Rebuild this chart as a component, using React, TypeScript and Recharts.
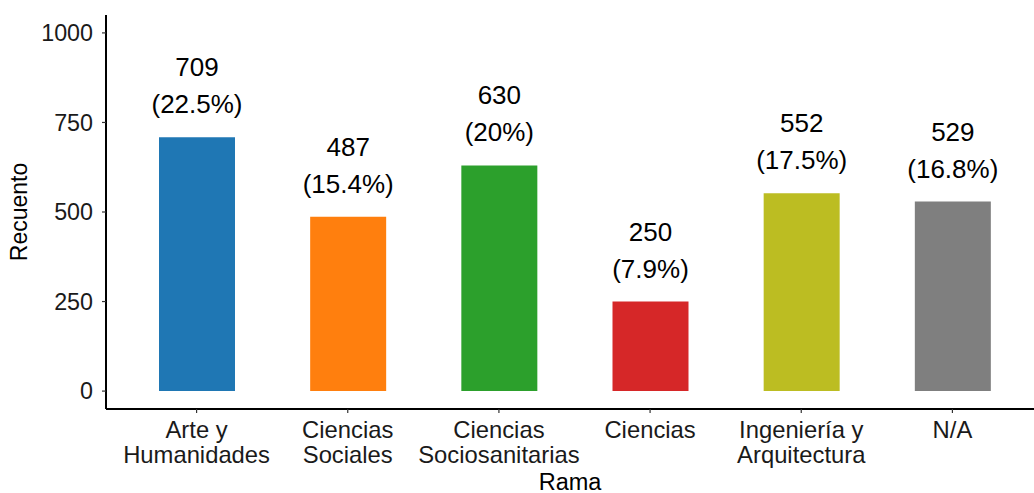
import { BarChart, Bar, XAxis, YAxis, Cell, LabelList, Label } from "recharts";

// Counts per branch (Rama)
const RAMAS = [
  "Arte y\nHumanidades",
  "Ciencias\nSociales",
  "Ciencias\nSociosanitarias",
  "Ciencias",
  "Ingeniería y\nArquitectura",
  "N/A",
];
const RECUENTO = [709, 487, 630, 250, 552, 529];
const PORCENTAJE = ["22.5%", "15.4%", "20%", "7.9%", "17.5%", "16.8%"];
const COLORES = ["#1F77B4", "#FF7F0E", "#2CA02C", "#D62728", "#BCBD22", "#7F7F7F"];
const Y_TICKS = [0, 250, 500, 750, 1000];

const data = RAMAS.map((rama, i) => ({
  rama,
  n: RECUENTO[i],
  pct: PORCENTAJE[i],
}));

const FONT = "'Liberation Sans', Arial, Helvetica, sans-serif";

const RamaTick = (props: any) => {
  const { x, y, payload } = props;
  const lines = String(payload.value).split("\n");
  return (
    <g>
      {lines.map((line, i) => (
        <text
          key={i}
          x={x}
          y={y}
          dy={23 + i * 25}
          textAnchor="middle"
          fontSize={23.8}
          fontFamily={FONT}
          fill="#1a1a1a"
        >
          {line}
        </text>
      ))}
    </g>
  );
};

const BarLabel = (props: any) => {
  const { x, y, width, index } = props;
  const cx = x + width / 2;
  return (
    <g>
      <text x={cx} y={y - 61} textAnchor="middle" fontSize={26} fontFamily={FONT} fill="#000">
        {RECUENTO[index]}
      </text>
      <text x={cx} y={y - 24} textAnchor="middle" fontSize={26} fontFamily={FONT} fill="#000">
        ({PORCENTAJE[index]})
      </text>
    </g>
  );
};

export default function App() {
  return (
    <div style={{ position: "absolute", left: 0, top: 0, background: "#fff" }}>
      <BarChart
        width={1034}
        height={493}
        data={data}
        margin={{ top: 15, right: 0, left: 0, bottom: 0 }}
        barCategoryGap={0}
      >
        <XAxis
          dataKey="rama"
          height={84}
          padding={{ left: 15, right: 6 }}
          axisLine={{ stroke: "#000", strokeWidth: 2 }}
          tickLine={{ stroke: "#333", strokeWidth: 1.2 }}
          tickSize={4}
          tickMargin={2}
          tick={<RamaTick />}
          interval={0}
        >
          <Label
            value="Rama"
            position="insideBottom"
            offset={3}
            fontSize={23.5}
            fontFamily={FONT}
            fill="#000"
          />
        </XAxis>
        <YAxis
          width={106}
          type="number"
          domain={[-50, 1050]}
          allowDataOverflow
          ticks={Y_TICKS}
          axisLine={{ stroke: "#000", strokeWidth: 2 }}
          tickLine={{ stroke: "#333", strokeWidth: 1.2 }}
          tickSize={4}
          tickMargin={9}
          tick={{ fontSize: 23.3, fontFamily: FONT, fill: "#1a1a1a" }}
        >
          <Label
            value="Recuento"
            angle={-90}
            position="insideLeft"
            offset={0}
            dx={19}
            fontSize={23}
            fontFamily={FONT}
            fill="#000"
            style={{ textAnchor: "middle" }}
          />
        </YAxis>
        <Bar dataKey="n" barSize={76} isAnimationActive={false}>
          {data.map((d, i) => (
            <Cell key={d.rama} fill={COLORES[i]} />
          ))}
          <LabelList dataKey="n" content={<BarLabel />} />
        </Bar>
      </BarChart>
    </div>
  );
}
